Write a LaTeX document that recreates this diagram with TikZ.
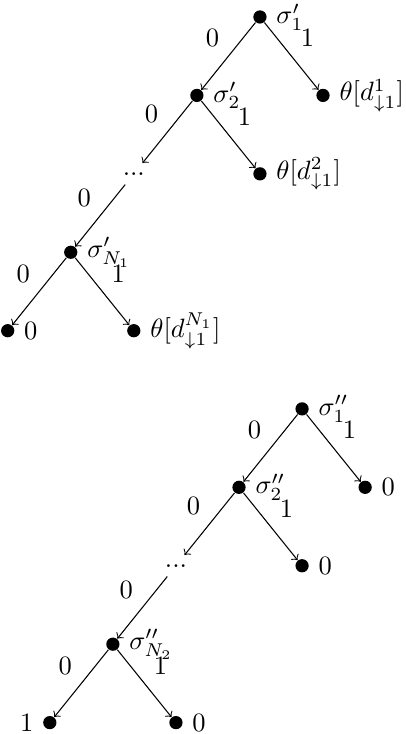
\documentclass[tikz,border=0pt]{standalone}
\usepackage{amsmath, amssymb}
\usetikzlibrary{positioning}
\begin{document}
\begin{tikzpicture}[node distance=29.6pt and 23.8pt, on grid, dot/.style={circle, fill, inner sep=0pt, minimum size=5pt, label distance=1pt}, arrow/.style={->}]
      \useasboundingbox (0,0) rectangle (153.2pt,-277pt);
      % first tree
      \node[dot, label=right:{$\sigma'_1$}] (p1) at (98.1pt,-6.4pt) {};
      \node[dot, below left=of p1, label=right:{$\sigma'_2$}] (p2) {};
      \node[dot, below right=of p1, label=right:{$\theta[d^1_{\downarrow 1}]$}]
      (pleaf1) {}; \node[below left=of p2] (pdots) {...}; \node[dot, below
      right=of p2, label=right:{$\theta[d^2_{\downarrow 1}]$}] (pleaf2) {};
      \node[dot, below left=of pdots, label=right:{$\sigma'_{N_1}$}] (pN) {};
      \node[dot, below left=of pN, label=right:{$0$}] (pleafL) {}; \node[dot,
      below right=of pN, label=right:{$\theta[d^{N_1}_{\downarrow 1}]$}]
      (pleafR) {};

      \draw[arrow] (p1) -- node[above left]{$0$} (p2); \draw[arrow] (p1) --
      node[above right]{$1$} (pleaf1); \draw[arrow] (p2) -- node[above
      left]{$0$} (pdots); \draw[arrow] (p2) -- node[above right]{$1$} (pleaf2);
      \draw[arrow] (pdots) -- node[above left]{$0$} (pN); \draw[arrow] (pN) --
      node[above left]{$0$} (pleafL); \draw[arrow] (pN) -- node[above
      right]{$1$} (pleafR);

      % second tree
      \node[dot, label=right:{$\sigma''_1$}] (q1) at (114pt,-154.3pt) {};
      \node[dot, below left=of q1, label=right:{$\sigma''_2$}] (q2) {};
      \node[dot, below right=of q1, label=right:{$0$}] (qleaf1) {};
      \node[below left=of q2] (qdots) {...}; \node[dot, below right=of q2,
      label=right:{$0$}] (qleaf2) {}; \node[dot, below left=of qdots,
      label=right:{$\sigma''_{N_2}$}] (qN) {}; \node[dot, below left=of qN,
      label=left:{$1$}] (qleafL) {}; \node[dot, below right=of qN,
      label=right:{$0$}] (qleafR) {};

      \draw[arrow] (q1) -- node[above left]{$0$} (q2); \draw[arrow] (q1) --
      node[above right]{$1$} (qleaf1); \draw[arrow] (q2) -- node[above
      left]{$0$} (qdots); \draw[arrow] (q2) -- node[above right]{$1$} (qleaf2);
      \draw[arrow] (qdots) -- node[above left]{$0$} (qN); \draw[arrow] (qN) --
      node[above left]{$0$} (qleafL); \draw[arrow] (qN) -- node[above
      right]{$1$} (qleafR);
    \end{tikzpicture}
\end{document}
